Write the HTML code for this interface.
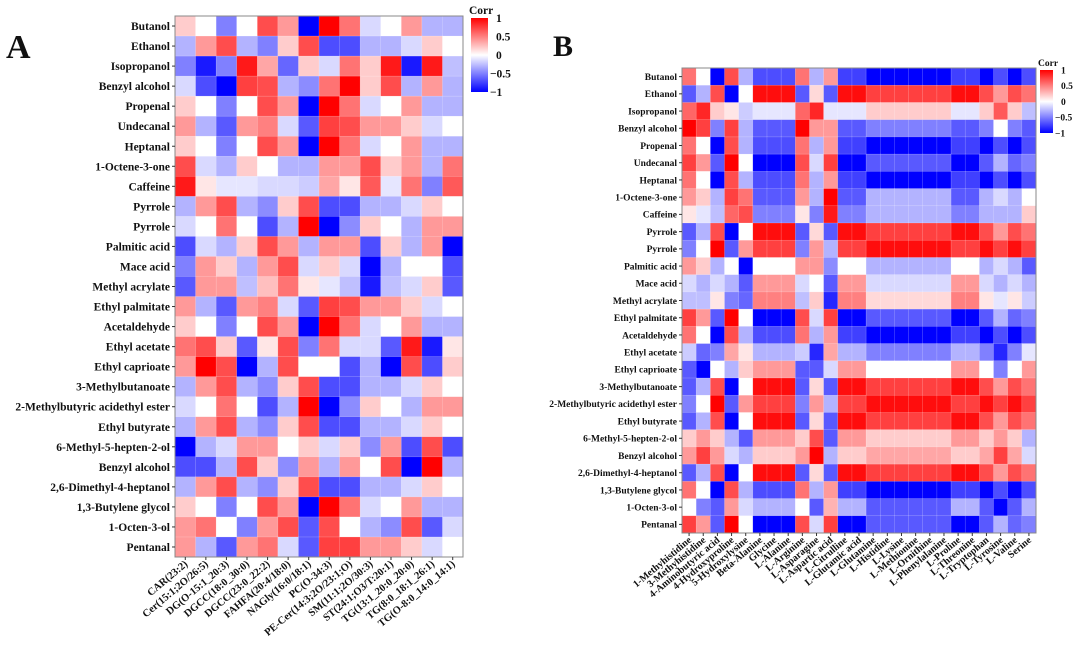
<!DOCTYPE html>
<html><head><meta charset="utf-8"><style>
body{margin:0;background:#fff;}
svg text{font-family:"Liberation Serif",serif;font-weight:bold;fill:#111;}
</style></head><body>
<svg id="s" width="1080" height="648" xmlns="http://www.w3.org/2000/svg">
<text x="6" y="58" font-size="34">A</text>
<text x="553" y="56" font-size="30">B</text>
</svg>
<script>
const rowsA=["Butanol","Ethanol","Isopropanol","Benzyl alcohol","Propenal","Undecanal","Heptanal","1-Octene-3-one","Caffeine","Pyrrole","Pyrrole","Palmitic acid","Mace acid","Methyl acrylate","Ethyl palmitate","Acetaldehyde","Ethyl acetate","Ethyl caprioate","3-Methylbutanoate","2-Methylbutyric acidethyl ester","Ethyl butyrate","6-Methyl-5-hepten-2-ol","Benzyl alcohol","2,6-Dimethyl-4-heptanol","1,3-Butylene glycol","1-Octen-3-ol","Pentanal"];
const colsA=["CAR(23:2)","Cer(15:1;2O/26:5)","DG(O-15:1_20:3)","DGCC(18:0_30:0)","DGCC(23:0_22:2)","FAHFA(20:4/18:0)","NAGly(16:0/18:1)","PC(O-34:3)","PE-Cer(14:3;2O/23:1;O)","SM(11:1;2O/30:3)","ST(24:1;O3/T:20:1)","TG(13:1_20:0_20:0)","TG(8:0_18:1_26:1)","TG(O-8:0_14:0_14:1)"];
const valsA=[
[0.2,0,-0.5,0,0.7,0.4,-1,1,0.55,-0.15,0,0.4,-0.3,-0.3],
[-0.3,0.4,0.7,-0.3,-0.5,0.2,0.7,-0.7,-0.7,-0.3,-0.3,-0.15,0.2,0],
[-0.5,-0.9,-0.5,0.9,0.35,-0.6,0.2,-0.15,0.55,0.2,0.9,-0.9,0.9,-0.25],
[-0.15,-0.7,-1,0.75,0.7,-0.3,-0.45,0.55,1,0.2,0.7,-0.3,0.4,-0.3],
[0.2,0,-0.5,0,0.7,0.4,-1,1,0.55,-0.15,0,0.4,-0.3,-0.3],
[0.4,-0.3,-0.65,0.4,0.5,-0.15,-0.65,0.75,0.7,0.4,0.4,0.2,-0.15,0],
[0.2,0,-0.5,0,0.7,0.4,-1,1,0.55,-0.15,0,0.4,-0.3,-0.3],
[0.7,-0.15,-0.3,0.2,0,-0.3,-0.3,0.4,0.4,0.7,0.2,0.4,-0.3,0.55],
[0.9,0.1,-0.1,-0.1,-0.15,-0.15,-0.2,0.35,0.1,0.65,-0.1,0.55,-0.5,0.65],
[-0.3,0.4,0.7,-0.3,-0.45,0.2,0.7,-0.7,-0.7,-0.3,-0.3,-0.15,0.2,0],
[-0.15,0,0.55,0,-0.7,-0.3,1,-1,-0.45,0.2,0,-0.3,0.4,0.4],
[-0.7,-0.15,-0.3,0.2,0.7,0.4,-0.3,0.4,0.4,-0.7,0.2,-0.3,0.4,-1],
[-0.5,0.4,0.2,-0.3,0.4,0.7,-0.15,0.2,-0.15,-1,-0.3,0,0,-0.7],
[-0.65,0.4,0.4,-0.25,0.25,0.55,0.1,-0.1,-0.25,-0.9,-0.25,-0.15,0.2,-0.65],
[0.4,-0.3,-0.65,0.4,0.5,-0.15,-0.65,0.75,0.7,0.4,0.4,0.2,-0.15,0],
[0.2,0,-0.5,0,0.7,0.4,-1,1,0.55,-0.15,0,0.4,-0.3,-0.3],
[0.55,0.7,0.2,-0.65,0.1,0.7,-0.5,0.55,-0.15,-0.15,-0.65,0.9,-0.9,0.1],
[0.4,1,0.7,-1,-0.3,0.7,0,0,-0.7,-0.3,-1,0.7,-0.7,0.2],
[-0.3,0.4,0.7,-0.3,-0.45,0.2,0.7,-0.7,-0.7,-0.3,-0.3,-0.15,0.2,0],
[-0.15,0,0.55,0,-0.7,-0.3,1,-1,-0.45,0.2,0,-0.3,0.4,0.4],
[-0.3,0.4,0.7,-0.3,-0.45,0.2,0.7,-0.7,-0.7,-0.3,-0.3,-0.15,0.2,0],
[-1,-0.3,-0.15,0.4,0.4,0,0.2,-0.15,0.2,-0.45,0.4,-0.7,0.7,-0.7],
[-0.7,-0.7,-0.3,0.7,0.2,-0.45,0.4,-0.3,0.4,0,0.7,-1,1,-0.3],
[-0.3,0.4,0.7,-0.3,-0.45,0.2,0.7,-0.7,-0.7,-0.3,-0.3,-0.15,0.2,0],
[0.2,0,-0.5,0,0.7,0.4,-1,1,0.55,-0.15,0,0.4,-0.3,-0.3],
[0.4,0.55,0,-0.5,0.4,0.7,-0.65,0.7,0,-0.3,-0.45,0.7,-0.65,-0.15],
[0.4,-0.3,-0.65,0.4,0.55,-0.15,-0.65,0.75,0.75,0.4,0.4,0.2,-0.15,0]
];
const rowsB=rowsA.slice();
const colsB=["1-Methyhistidine","3-Methyhistidine","4-Aminobutyric acid","4-Hydroxyproline","5-Hydroxylysine","Beta-Alanine","Glycine","L-Alanine","L-Arginine","L-Asparagine","L-Aspartic acid","L-Citrulline","L-Glutamic acid","L-Glutamine","L-Histidine","L-Lysine","L-Methionine","L-Ornithine","L-Phenylalanine","L-Proline","L-Threonine","L-Tryptophan","L-Tyrosine","L-Valine","Serine"];
const valsB=[
[0.55,0,-1,0.7,-0.3,-0.7,-0.7,-0.7,0.55,-0.3,0.4,-0.75,-0.75,-1,-1,-1,-1,-1,-1,-0.75,-0.75,-1,-0.7,-1,-0.7],
[-0.65,-0.3,0.7,-1,0,0.95,0.95,0.95,-0.65,0.15,-0.65,0.95,0.95,0.75,0.75,0.75,0.75,0.75,0.75,0.95,0.95,0.7,0.4,0.7,0.55],
[0.6,0.85,0.2,0.1,-0.2,-0.1,-0.1,-0.1,0.6,0.85,-0.1,-0.1,-0.1,0.2,0.2,0.2,0.2,0.2,0.2,-0.1,-0.1,0.2,0.65,0.2,-0.25],
[1,0.75,-0.5,0.75,-0.3,-0.65,-0.65,-0.65,1,0.4,0.4,-0.65,-0.65,-0.5,-0.5,-0.5,-0.5,-0.5,-0.5,-0.65,-0.65,-0.5,0,-0.5,-0.65],
[0.55,0,-1,0.7,-0.3,-0.7,-0.7,-0.7,0.55,-0.3,0.4,-0.75,-0.75,-1,-1,-1,-1,-1,-1,-0.75,-0.75,-1,-0.7,-1,-0.7],
[0.75,0.4,-0.65,1,0,-1,-1,-1,0.7,-0.15,0.75,-1,-1,-0.65,-0.65,-0.65,-0.65,-0.65,-0.65,-1,-1,-0.65,-0.3,-0.6,-0.5],
[0.55,0,-1,0.7,-0.3,-0.7,-0.7,-0.7,0.55,-0.3,0.4,-0.75,-0.75,-1,-1,-1,-1,-1,-1,-0.75,-0.75,-1,-0.7,-1,-0.7],
[0.4,0.2,-0.3,0.75,0.55,-0.65,-0.65,-0.65,0.4,-0.3,1,-0.65,-0.65,-0.3,-0.3,-0.3,-0.3,-0.3,-0.3,-0.65,-0.65,-0.3,-0.15,-0.3,0],
[0.1,-0.1,-0.25,0.6,0.7,-0.5,-0.5,-0.5,0.1,-0.5,0.9,-0.5,-0.5,-0.3,-0.3,-0.3,-0.3,-0.3,-0.3,-0.5,-0.5,-0.3,-0.3,-0.3,0.2],
[-0.65,-0.3,0.7,-1,0,0.95,0.95,0.95,-0.65,0.15,-0.65,0.95,0.95,0.75,0.75,0.75,0.75,0.75,0.75,0.95,0.95,0.7,0.4,0.7,0.55],
[-0.5,0,1,-0.65,0.4,0.75,0.75,0.75,-0.5,0.4,-0.3,0.75,0.75,0.95,0.95,0.95,0.95,0.95,0.95,0.75,0.75,0.95,0.75,0.95,0.75],
[0.4,0.2,-0.3,0,-1,0,0,0,0.4,0.4,-0.45,0,0,-0.3,-0.3,-0.3,-0.3,-0.3,-0.3,0,0,-0.3,-0.15,-0.3,-0.65],
[-0.15,-0.3,-0.15,-0.3,-0.65,0.4,0.4,0.4,-0.15,0,-0.65,0.4,0.4,-0.15,-0.15,-0.15,-0.15,-0.15,-0.15,0.4,0.4,-0.15,-0.3,-0.15,-0.3],
[-0.25,-0.25,0.1,-0.5,-0.6,0.5,0.5,0.5,-0.25,0.2,-0.85,0.5,0.5,0.15,0.15,0.15,0.15,0.15,0.15,0.5,0.5,0.1,-0.1,0.1,-0.2],
[0.75,0.4,-0.65,1,0,-1,-1,-1,0.7,-0.15,0.75,-1,-1,-0.65,-0.65,-0.65,-0.65,-0.65,-0.65,-1,-1,-0.65,-0.3,-0.6,-0.5],
[0.55,0,-1,0.7,-0.3,-0.7,-0.7,-0.7,0.55,-0.3,0.4,-0.75,-0.75,-1,-1,-1,-1,-1,-1,-0.75,-0.75,-1,-0.7,-1,-0.7],
[-0.2,-0.6,-0.5,0.35,0.1,-0.3,-0.3,-0.3,-0.2,-0.85,0.35,-0.3,-0.3,-0.5,-0.5,-0.5,-0.5,-0.5,-0.5,-0.3,-0.3,-0.5,-0.85,-0.5,-0.1],
[-0.65,-1,0,-0.3,0.2,0.4,0.4,0.4,-0.65,-0.65,-0.15,0.4,0.4,0,0,0,0,0,0,0.4,0.4,0,-0.5,0,0.4],
[-0.65,-0.3,0.7,-1,0,0.95,0.95,0.95,-0.65,0.15,-0.65,0.95,0.95,0.75,0.75,0.75,0.75,0.75,0.75,0.95,0.95,0.7,0.4,0.7,0.55],
[-0.5,0,1,-0.65,0.4,0.75,0.75,0.75,-0.5,0.4,-0.3,0.75,0.75,0.95,0.95,0.95,0.95,0.95,0.95,0.75,0.75,0.95,0.75,0.95,0.75],
[-0.65,-0.3,0.7,-1,0,0.95,0.95,0.95,-0.65,0.15,-0.65,0.95,0.95,0.75,0.75,0.75,0.75,0.75,0.75,0.95,0.95,0.7,0.4,0.7,0.55],
[0.2,0.4,0.2,-0.3,-0.65,0.4,0.4,0.4,0.2,0.7,-0.65,0.4,0.4,0.2,0.2,0.2,0.2,0.2,0.2,0.4,0.4,0.2,0.4,0.2,-0.3],
[0.4,0.75,0.4,-0.15,-0.3,0.2,0.2,0.2,0.4,1,-0.3,0.2,0.2,0.35,0.35,0.35,0.35,0.35,0.35,0.2,0.2,0.35,0.75,0.35,-0.15],
[-0.65,-0.3,0.7,-1,0,0.95,0.95,0.95,-0.65,0.15,-0.65,0.95,0.95,0.75,0.75,0.75,0.75,0.75,0.75,0.95,0.95,0.7,0.4,0.7,0.55],
[0.55,0,-1,0.7,-0.3,-0.7,-0.7,-0.7,0.55,-0.3,0.4,-0.75,-0.75,-1,-1,-1,-1,-1,-1,-0.75,-0.75,-1,-0.7,-1,-0.7],
[0,-0.5,-0.65,0.4,-0.15,-0.3,-0.3,-0.3,0,-0.65,0.3,-0.3,-0.3,-0.65,-0.65,-0.65,-0.65,-0.65,-0.65,-0.3,-0.3,-0.65,-1,-0.65,-0.3],
[0.75,0.4,-0.65,1,0,-1,-1,-1,0.7,-0.15,0.75,-1,-1,-0.65,-0.65,-0.65,-0.65,-0.65,-0.65,-1,-1,-0.65,-0.3,-0.6,-0.5]
];
const cbTicks=[1,0.5,0,-0.5,-1];
const NS="http://www.w3.org/2000/svg";
const svg=document.getElementById('s');
function mk(tag,attrs,parent){const e=document.createElementNS(NS,tag);for(const k in attrs)e.setAttribute(k,attrs[k]);(parent||svg).appendChild(e);return e;}
function color(v){v=Math.max(-1,Math.min(1,v));let r,g,b;
 if(v>=0){r=255;g=Math.round(255*(1-v));b=g;}else{b=255;r=Math.round(255*(1+v));g=r;}
 return `rgb(${r},${g},${b})`;}
function heat(p){
 const g=mk('g',{});
 
 
 const nr=p.rows.length,nc=p.cols.length;
 const cw=(p.x1-p.x0)/nc,rh=(p.y1-p.y0)/nr;
 const X=j=>p.x0+j*cw, Y=i=>p.y0+i*rh;
 for(let i=0;i<nr;i++)for(let j=0;j<nc;j++){
  const r=mk('rect',{x:X(j),y:Y(i),width:cw+0.3,height:rh+0.3,fill:color(p.vals[i][j]),stroke:'rgba(255,255,255,0.35)','stroke-width':0.5},g);
  
  
 }
 const fr=mk('rect',{x:p.x0,y:p.y0,width:p.x1-p.x0,height:p.y1-p.y0,fill:'none',stroke:'#888','stroke-width':1},g);
 
 
 for(let i=0;i<nr;i++){
  const cy=Y(i)+rh/2;
  mk('line',{x1:p.x0-3,x2:p.x0,y1:cy,y2:cy,stroke:'#333','stroke-width':1},g);
  const t=mk('text',{x:p.x0-5,y:cy+p.fs*0.35,'text-anchor':'end','font-size':p.fs},g);
  t.textContent=p.rows[i];
  
  
 }
 for(let j=0;j<nc;j++){
  const cx=X(j)+cw/2;
  mk('line',{x1:cx,x2:cx,y1:p.y1,y2:p.y1+3,stroke:'#333','stroke-width':1},g);
  const t=mk('text',{x:cx+3,y:p.y1+8,'text-anchor':'end','font-size':p.cfs,transform:`rotate(-40 ${cx+3} ${p.y1+8})`},g);
  t.textContent=p.cols[j];
  
  
 }
 // colorbar
 const defs=mk('defs',{},g);
 const lg=mk('linearGradient',{id:p.name+'grad',x1:0,y1:0,x2:0,y2:1},defs);
 [[0,'#ff0000'],[0.5,'#ffffff'],[1,'#0000ff']].forEach(s=>mk('stop',{offset:s[0],'stop-color':s[1]},lg));
 const cb=mk('rect',{x:p.cb[0],y:p.cb[1],width:p.cb[2],height:p.cb[3],fill:`url(#${p.name}grad)`},g);
 
 
 const ct=mk('text',{x:p.cb[0]-2,y:p.cb[1]-4,'font-size':p.fs},g);
 ct.textContent='Corr';
 
 
 cbTicks.forEach(v=>{
  const yy=p.cb[1]+(1-v)/2*p.cb[3];
  const t=mk('text',{x:p.cb[0]+p.cb[2]+(v<0?2:8),y:yy+p.fs*0.35,'font-size':p.fs},g);
  t.textContent=(v<0?'\u2212':'')+Math.abs(v);
  
  
 });
}
heat({name:'panel-a',rows:rowsA,cols:colsA,vals:valsA,x0:175,x1:463,y0:16,y1:557,fs:11.5,cfs:10.5,cb:[471,18,17,74]});
heat({name:'panel-b',rows:rowsB,cols:colsB,vals:valsB,x0:682,x1:1036,y0:68,y1:533,fs:9.5,cfs:10,cb:[1040,70,13,63]});
</script>
</body></html>
